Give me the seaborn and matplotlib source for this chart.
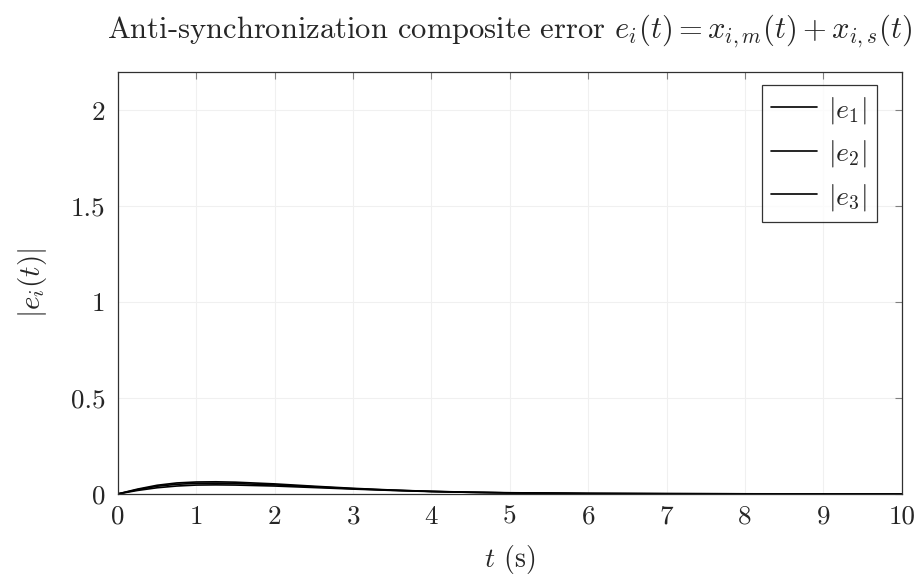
import numpy as np
import pandas as pd
import seaborn as sns
import matplotlib
matplotlib.use("Agg")
import matplotlib.pyplot as plt

# values
t = [0, 0.25, 0.5, 0.75, 1, 1.25, 1.5, 2, 2.5, 3, 3.5, 4, 4.5, 5, 6, 7, 8, 9, 10]
e1 = [0, 0.025, 0.045, 0.057, 0.062, 0.063, 0.061, 0.052, 0.040, 0.029, 0.020, 0.013, 0.009, 0.006, 0.0025, 0.001, 0.0004, 0.0001, 0]
e2 = [0, 0.022, 0.040, 0.050, 0.055, 0.056, 0.054, 0.047, 0.037, 0.027, 0.019, 0.013, 0.008, 0.005, 0.002, 0.001, 0.0003, 0.0001, 0]
e3 = [0, 0.018, 0.032, 0.041, 0.046, 0.047, 0.046, 0.041, 0.033, 0.025, 0.018, 0.012, 0.008, 0.005, 0.002, 0.001, 0.0003, 0.0001, 0]
labels = [r"$|e_1|$", r"$|e_2|$", r"$|e_3|$"]
xticks = [0, 1, 2, 3, 4, 5, 6, 7, 8, 9, 10]
yticks = [0, 0.5, 1, 1.5, 2]
ytick_labels = ["0", "0.5", "1", "1.5", "2"]

df = pd.DataFrame({
    "t": t * 3,
    "e": e1 + e2 + e3,
    "series": [labels[0]] * len(t) + [labels[1]] * len(t) + [labels[2]] * len(t),
})

sns.set_style("white")
plt.rcParams["font.family"] = ["cmr10", "DejaVu Serif"]
plt.rcParams["mathtext.fontset"] = "cm"
plt.rcParams["axes.formatter.use_mathtext"] = True

fig = plt.figure(figsize=(9.22, 5.79), dpi=100)
ax = fig.add_axes([0.128, 0.147, 0.85, 0.729])

sns.lineplot(data=df, x="t", y="e", hue="series",
             palette=["black", "black", "black"], linewidth=1.2, ax=ax)

ax.set_xlim(0, 10)
ax.set_ylim(0, 2.2)
ax.set_xticks(xticks)
ax.set_xticklabels([str(v) for v in xticks])
ax.set_yticks(yticks)
ax.set_yticklabels(ytick_labels)
ax.grid(True, color="#f0f0f0", linewidth=0.8)
ax.tick_params(direction="in", length=5, color="#808080", top=True, right=True,
               labelsize=19.5)
ax.tick_params(axis="x", pad=8)
ax.tick_params(axis="y", pad=9)
for s in ax.spines.values():
    s.set_color("#303030")
    s.set_linewidth(0.9)

ax.set_xlabel(r"$t$ (s)", fontsize=20, labelpad=10)
ax.set_ylabel(r"$|e_i(t)|$", fontsize=21, labelpad=16)
ax.set_title(r"Anti-synchronization composite error $e_i(t) = x_{i,m}(t) + x_{i,s}(t)$",
             fontsize=22, pad=24)

leg = ax.legend(loc="upper right", bbox_to_anchor=(0.968, 0.969), fontsize=20,
                frameon=True, fancybox=False, handlelength=1.65, handletextpad=0.4,
                borderpad=0.35, labelspacing=0.45, borderaxespad=0)
leg.get_frame().set_edgecolor("black")
leg.get_frame().set_linewidth(0.9)

fig.savefig("out.png", dpi=100)
